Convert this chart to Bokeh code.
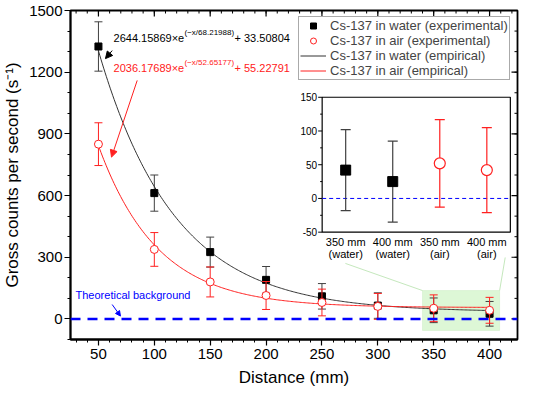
import numpy as np
from bokeh.plotting import figure
from bokeh.models import (Range1d, FixedTicker, ColumnDataSource, Legend,
                          LegendItem, Span, Label, Arrow, NormalHead, BoxAnnotation)
from bokeh.embed import file_html
from bokeh.resources import INLINE
from bokeh.core.properties import value

# ---------------- data ----------------
distance = [50, 100, 150, 200, 250, 300, 350, 400]
water_counts = [1325, 612, 325, 190, 110, 65, 42, 25]
water_err = [120, 88, 73, 65, 62, 62, 60, 60]
air_counts = [850, 338, 180, 114, 80, 61, 52, 42]
air_err = [104, 82, 73, 68, 65, 63, 65, 63]

water_fit = (2644.15869, 68.21988, 33.50804)   # A, t, y0
air_fit = (2036.17689, 52.65177, 55.22791)

x_ticks = [50, 100, 150, 200, 250, 300, 350, 400]
x_minor = list(range(30, 421, 10))
y_ticks = [0, 300, 600, 900, 1200, 1500]
y_minor = list(range(-100, 1501, 100))

inset_top_labels = ["350 mm", "400 mm", "350 mm", "400 mm"]
inset_bottom_labels = ["(water)", "(water)", "(air)", "(air)"]
inset_y_ticks = [-50, 0, 50, 100, 150]
inset_y_minor = [-25, 25, 75, 125]

FONT = "Liberation Sans"
BLACK_ERR = "#404040"
RED = "#ff2020"
X0, X1, Y0, Y1 = 25, 425, -100, 1500

p = figure(width=550, height=394, x_range=Range1d(X0, X1), y_range=Range1d(Y0, Y1),
           output_backend="svg", toolbar_location=None,
           min_border_left=70, min_border_right=33, min_border_top=10, min_border_bottom=55,
           x_axis_label="Distance (mm)", y_axis_label="Gross counts per second (s\u207b\u00b9)")
p.grid.visible = False
p.outline_line_color = "black"
p.outline_line_width = 1.8
p.background_fill_color = "white"
p.border_fill_color = "white"

for ax, tk, mn in ((p.xaxis[0], x_ticks, x_minor), (p.yaxis[0], y_ticks, y_minor)):
    ax.ticker = FixedTicker(ticks=tk, minor_ticks=mn)
    ax.axis_line_width = 1.8
    ax.axis_line_color = "black"
    ax.major_tick_in = 0
    ax.major_tick_out = 6
    ax.minor_tick_in = 0
    ax.minor_tick_out = 3
    ax.major_tick_line_width = 1.2
    ax.minor_tick_line_width = 1
    ax.major_label_text_font = FONT
    ax.major_label_text_font_size = "15px"
    ax.major_label_text_color = "black"
    ax.axis_label_text_font = FONT
    ax.axis_label_text_font_size = "17px"
    ax.axis_label_text_font_style = "normal"
    ax.axis_label_text_color = "black"
p.xaxis[0].major_label_standoff = 3
p.xaxis[0].axis_label_standoff = 6
p.yaxis[0].major_label_standoff = 2
p.yaxis[0].axis_label_standoff = 4

# mirrored inward ticks on top and right edges
p.ray(x=x_ticks, y=[Y1] * len(x_ticks), length=6, length_units="screen", angle=-np.pi / 2,
      line_color="black", line_width=1.2)
p.ray(x=x_minor, y=[Y1] * len(x_minor), length=3, length_units="screen", angle=-np.pi / 2,
      line_color="black", line_width=1)
p.ray(x=[X1] * len(y_ticks), y=y_ticks, length=6, length_units="screen", angle=np.pi,
      line_color="black", line_width=1.2)
p.ray(x=[X1] * len(y_minor), y=y_minor, length=3, length_units="screen", angle=np.pi,
      line_color="black", line_width=1)

# zoom box and connectors (behind data)
p.add_layout(BoxAnnotation(left=340, right=409, bottom=-56, top=138, fill_color="#d4f5cc",
                           fill_alpha=0.8, line_color="#b5e3ab", line_width=1, level="underlay"))
p.segment(x0=[271, 414], y0=[270, 299], x1=[340, 409], y1=[138, 138],
          line_color="#c5e8bd", line_width=1, level="underlay")

p.add_layout(Span(location=0, dimension="width", line_color="#0000ff", line_width=2.5,
                  line_dash="10 7"))

src_w = ColumnDataSource(dict(x=distance, y=water_counts,
                              lo=[v - e for v, e in zip(water_counts, water_err)],
                              hi=[v + e for v, e in zip(water_counts, water_err)]))
src_a = ColumnDataSource(dict(x=distance, y=air_counts,
                              lo=[v - e for v, e in zip(air_counts, air_err)],
                              hi=[v + e for v, e in zip(air_counts, air_err)]))

xs = np.linspace(50, 400, 300)
yw = water_fit[0] * np.exp(-xs / water_fit[1]) + water_fit[2]
ya = air_fit[0] * np.exp(-xs / air_fit[1]) + air_fit[2]

# water
p.segment(x0="x", y0="lo", x1="x", y1="hi", source=src_w, line_color=BLACK_ERR, line_width=1)
p.scatter("x", "lo", source=src_w, marker="dash", size=8, line_color=BLACK_ERR, line_width=1)
p.scatter("x", "hi", source=src_w, marker="dash", size=8, line_color=BLACK_ERR, line_width=1)
r_wline = p.line(xs, yw, line_color="#333333", line_width=1)
r_wsq = p.scatter("x", "y", source=src_w, marker="square", size=7, fill_color="black",
                  line_color="black")
# air
p.segment(x0="x", y0="lo", x1="x", y1="hi", source=src_a, line_color=RED, line_width=1)
p.scatter("x", "lo", source=src_a, marker="dash", size=8, line_color=RED, line_width=1)
p.scatter("x", "hi", source=src_a, marker="dash", size=8, line_color=RED, line_width=1)
r_aline = p.line(xs, ya, line_color=RED, line_width=1)
r_acirc = p.scatter("x", "y", source=src_a, marker="circle", size=8, fill_color="white",
                    line_color=RED, line_width=1)

# formula annotations
def formula(y_main, y_sup, a_txt, sup_txt, c_txt, color):
    p.add_layout(Label(x=63.5, y=y_main, text=a_txt, text_font=FONT, text_font_size="11px",
                       text_color=color, text_baseline="middle"))
    p.add_layout(Label(x=63.5, y=y_sup, x_offset=71, text=sup_txt, text_font=FONT,
                       text_font_size="8px", text_color=color, text_baseline="middle"))
    p.add_layout(Label(x=63.5, y=y_main, x_offset=121, text=c_txt, text_font=FONT,
                       text_font_size="11px", text_color=color, text_baseline="middle"))

formula(1367, 1394, "2644.15869\u00d7e", "(\u2212x/68.21988)", " + 33.50804", "black")
formula(1218, 1245, "2036.17689\u00d7e", "(\u2212x/52.65177)", " + 55.22791", RED)

p.add_layout(Arrow(end=NormalHead(size=7, fill_color="black", line_color="black"),
                   x_start=62.3, y_start=1305, x_end=56.3, y_end=1266,
                   line_color="black", line_width=1))
p.add_layout(Arrow(end=NormalHead(size=7, fill_color=RED, line_color=RED),
                   x_start=84.7, y_start=1160, x_end=61.7, y_end=787,
                   line_color=RED, line_width=1))

p.add_layout(Label(x=29.5, y=114, text="Theoretical background", text_font=FONT,
                   text_font_size="11px", text_color="#0000ff", text_baseline="middle"))
p.add_layout(Arrow(end=NormalHead(size=5, fill_color="#0000ff", line_color="#0000ff"),
                   x_start=62.3, y_start=70, x_end=69.7, y_end=14,
                   line_color="#0000ff", line_width=1))

# legend
legend = Legend(items=[
    LegendItem(label="Cs-137 in water (experimental)", renderers=[r_wsq]),
    LegendItem(label="Cs-137 in air (experimental)", renderers=[r_acirc]),
    LegendItem(label="Cs-137 in water (empirical)", renderers=[r_wline]),
    LegendItem(label="Cs-137 in air (empirical)", renderers=[r_aline]),
], location=(228, 259), label_text_font=FONT, label_text_font_size="13px",
    glyph_width=26, glyph_height=15, label_height=15, spacing=0, padding=1, margin=0,
    label_standoff=4, border_line_color="#555555", border_line_width=1,
    background_fill_color="white", background_fill_alpha=1)
p.add_layout(legend)

# ---------------- inset ----------------
ix0, ix1 = -0.5, len(inset_top_labels) - 0.5
iy0, iy1 = inset_y_ticks[0], inset_y_ticks[-1]
sub = p.subplot(x_source=Range1d(ix0, ix1), y_source=Range1d(iy0, iy1),
                x_target=Range1d(250.2, 418.6), y_target=Range1d(422, 1078))

idx = [6, 7]
ins_x = [0, 1, 2, 3]
ins_y = [water_counts[i] for i in idx] + [air_counts[i] for i in idx]
ins_e = [water_err[i] for i in idx] + [air_err[i] for i in idx]
ins_col = [BLACK_ERR, BLACK_ERR, RED, RED]

sub.quad(left=[ix0], right=[ix1], bottom=[iy0], top=[iy1], fill_color="white",
         line_color="black", line_width=1.2)
sub.segment(x0=[ix0], y0=[0], x1=[ix1], y1=[0], line_color="#0000ff", line_width=1,
            line_dash="4 3")
sub.segment(x0=ins_x, y0=[v - e for v, e in zip(ins_y, ins_e)], x1=ins_x,
            y1=[v + e for v, e in zip(ins_y, ins_e)], line_color=ins_col, line_width=1.2)
sub.scatter(ins_x, [v - e for v, e in zip(ins_y, ins_e)], marker="dash", size=10,
            line_color=ins_col, line_width=1.2)
sub.scatter(ins_x, [v + e for v, e in zip(ins_y, ins_e)], marker="dash", size=10,
            line_color=ins_col, line_width=1.2)
sub.scatter(ins_x[:2], ins_y[:2], marker="square", size=10, fill_color="black",
            line_color="black")
sub.scatter(ins_x[2:], ins_y[2:], marker="circle", size=11, fill_color="white",
            line_color=RED, line_width=1.2)

sub.ray(x=[ix0] * len(inset_y_ticks), y=inset_y_ticks, length=4, length_units="screen",
        angle=np.pi, line_color="black", line_width=1)
sub.ray(x=[ix0] * len(inset_y_minor), y=inset_y_minor, length=2, length_units="screen",
        angle=np.pi, line_color="black", line_width=1)
sub.text(x=[ix0] * len(inset_y_ticks), y=inset_y_ticks, text=[str(t) for t in inset_y_ticks],
         x_offset=-5, text_align="right", text_baseline="middle",
         text_font=value(FONT), text_font_size="10px", text_color="black")
sub.text(x=ins_x, y=[iy0] * 4, text=inset_top_labels, y_offset=10, text_align="center",
         text_baseline="middle", text_font=value(FONT), text_font_size="11px",
         text_color="black")
sub.text(x=ins_x, y=[iy0] * 4, text=inset_bottom_labels, y_offset=22, text_align="center",
         text_baseline="middle", text_font=value(FONT), text_font_size="11px",
         text_color="black")

open("out.html", "w").write(file_html(p, INLINE))
